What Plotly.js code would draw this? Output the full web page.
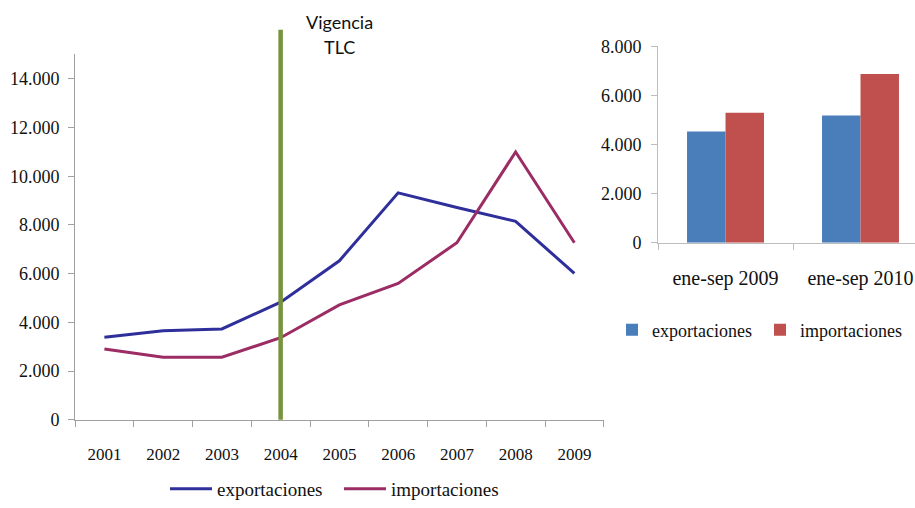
<!DOCTYPE html>
<html>
<head>
<meta charset="utf-8">
<script src="https://cdn.plot.ly/plotly-3.0.1.min.js"></script>
<style>
  html, body { margin: 0; padding: 0; background: #ffffff; }
  #chart { width: 915px; height: 508px; }
</style>
</head>
<body>
<div id="chart"></div>
<script>
// ---- data ----
const years = ['2001', '2002', '2003', '2004', '2005', '2006', '2007', '2008', '2009'];
const exportaciones = [3390, 3660, 3730, 4830, 6530, 9320, 8720, 8150, 6010];
const importaciones = [2910, 2570, 2570, 3370, 4720, 5600, 7270, 11000, 7270];
const vigenciaYear = '2004';

const periodos = ['ene-sep 2009', 'ene-sep 2010'];
const exportPeriodo = [4530, 5190];
const importPeriodo = [5300, 6880];

const leftTickVals = [0, 2000, 4000, 6000, 8000, 10000, 12000, 14000];
const leftTickText = ['0', '2.000', '4.000', '6.000', '8.000', '10.000', '12.000', '14.000'];
const rightTickVals = [0, 2000, 4000, 6000, 8000];
const rightTickText = ['0', '2.000', '4.000', '6.000', '8.000'];

const serif = '"Liberation Serif", "Times New Roman", serif';

const traces = [
  { type: 'scatter', mode: 'lines', name: 'exportaciones', x: years, y: exportaciones,
    xaxis: 'x', yaxis: 'y', line: { color: '#2f2f9c', width: 3 }, legend: 'legend' },
  { type: 'scatter', mode: 'lines', name: 'importaciones', x: years, y: importaciones,
    xaxis: 'x', yaxis: 'y', line: { color: '#9b2d64', width: 3 }, legend: 'legend' },
  { type: 'bar', name: 'exportaciones', x: periodos, y: exportPeriodo,
    xaxis: 'x2', yaxis: 'y2', marker: { color: '#4a7ebb' }, legend: 'legend2' },
  { type: 'bar', name: 'importaciones', x: periodos, y: importPeriodo,
    xaxis: 'x2', yaxis: 'y2', marker: { color: '#c0504d' }, legend: 'legend2' }
];

function axisBase(size) {
  return {
    showline: true, linewidth: 1, ticks: 'outside', showgrid: false, zeroline: false,
    fixedrange: true, tickfont: { family: serif, size: size, color: '#111' }
  };
}

const layout = {
  width: 915, height: 508,
  margin: { l: 0, r: 0, t: 0, b: 0 },
  paper_bgcolor: '#ffffff', plot_bgcolor: '#ffffff',
  font: { family: serif, size: 17, color: '#111' },
  showlegend: true,
  barmode: 'group', bargap: 0.43, bargroupgap: 0,
  xaxis: Object.assign(axisBase(17), {
    domain: [0.08197, 0.65984], anchor: 'y', type: 'category', range: [-0.5, 8.5],
    linecolor: '#a0a0a0', tickcolor: '#a0a0a0', tickson: 'boundaries', ticklen: 6,
    ticklabelstandoff: 19
  }),
  yaxis: Object.assign(axisBase(18), {
    domain: [0.1687, 0.8921], anchor: 'x', range: [0, 15000],
    tickvals: leftTickVals, ticktext: leftTickText,
    linecolor: '#a0a0a0', tickcolor: '#a0a0a0', ticklen: 6, ticklabelstandoff: 5
  }),
  xaxis2: Object.assign(axisBase(20), {
    domain: [0.71913, 1], anchor: 'y2', type: 'category', range: [-0.5, 1.4037],
    linecolor: '#bdbdbd', tickcolor: '#bdbdbd', tickson: 'boundaries', ticklen: 6,
    ticklabelstandoff: 17
  }),
  yaxis2: Object.assign(axisBase(18), {
    domain: [0.5191, 0.9081], anchor: 'x2', range: [0, 8000],
    tickvals: rightTickVals, ticktext: rightTickText,
    linecolor: '#bdbdbd', tickcolor: '#bdbdbd', ticklen: 6, ticklabelstandoff: 6
  }),
  legend: {
    orientation: 'h', x: 165 / 915, xanchor: 'left', y: 0.0315, yanchor: 'middle',
    font: { family: serif, size: 19, color: '#111' }, itemwidth: 42,
    entrywidth: 117, entrywidthmode: 'pixels',
    bgcolor: 'rgba(0,0,0,0)', traceorder: 'normal'
  },
  legend2: {
    orientation: 'h', x: 612 / 915, xanchor: 'left', y: 0.3465, yanchor: 'middle',
    font: { family: serif, size: 18, color: '#111' },
    entrywidth: 103, entrywidthmode: 'pixels',
    bgcolor: 'rgba(0,0,0,0)', traceorder: 'normal'
  },
  shapes: [
    { type: 'line', xref: 'x', yref: 'paper',
      x0: years.indexOf(vigenciaYear), x1: years.indexOf(vigenciaYear),
      y0: 0.1687, y1: 0.941, line: { color: '#77933c', width: 4.5 } }
  ],
  annotations: [
    { text: 'Vigencia', xref: 'paper', yref: 'paper', x: 0.3705, y: 0.9567,
      xanchor: 'center', yanchor: 'middle', showarrow: false,
      font: { family: 'Lato, sans-serif', size: 18, color: '#111' } },
    { text: 'TLC', xref: 'paper', yref: 'paper', x: 0.3705, y: 0.9075,
      xanchor: 'center', yanchor: 'middle', showarrow: false,
      font: { family: 'Lato, sans-serif', size: 18, color: '#111' } }
  ]
};

Plotly.newPlot('chart', traces, layout, { displayModeBar: false, staticPlot: true });
</script>
</body>
</html>
